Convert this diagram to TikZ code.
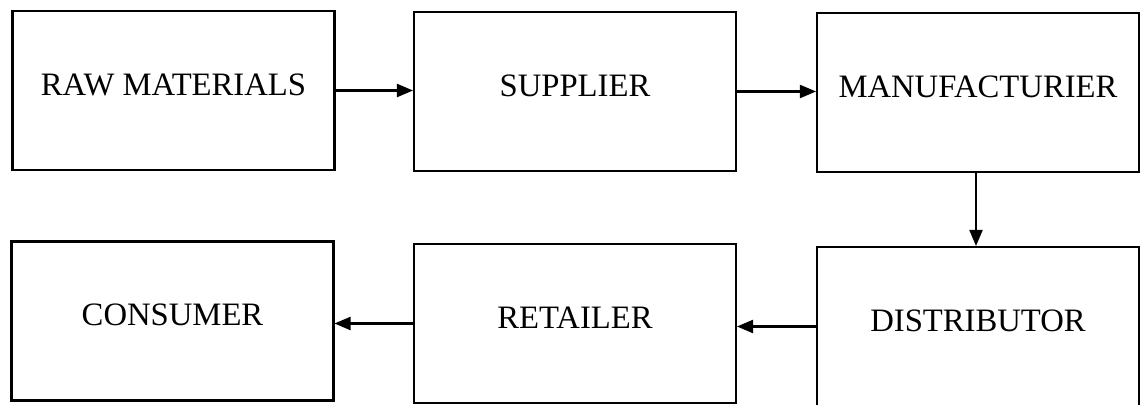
\documentclass[tikz,border=0pt]{standalone}
\usepackage{fontspec}
\setmainfont{Liberation Serif}
\usetikzlibrary{arrows.meta}

\tikzset{
  stage/.style={draw, line width=1.2pt, rectangle, minimum width=6.44cm,
    minimum height=3.18cm, text depth=0.25cm, font=\fontsize{18.6}{22}\selectfont},
  flow/.style={line width=1.2pt, -{Triangle[length=0.32cm,width=0.26cm]}}
}

\begin{document}
\begin{tikzpicture}[x=0.02cm, y=-0.02cm]
  \useasboundingbox (0,0) rectangle (1140,405);

  % Draw the boxes
  \foreach \name/\x/\y/\txt in {raw/173.5/90.5/RAW MATERIALS, sup/575/91.5/SUPPLIER,
      man/978/92.5/MANUFACTURIER, con/172.5/321/CONSUMER,
      ret/575/323.5/RETAILER, dis/978/326.5/DISTRIBUTOR} {
    \node[stage] (\name) at (\x,\y) {\txt};
  }

  % Draw arrows between the boxes
  \draw[flow] (raw.east) -- (raw.east -| sup.west);
  \draw[flow] (sup.east) -- (sup.east -| man.west);
  \draw[flow] (man.south -| 976,0) -- (dis.north -| 976,0);
  \draw[flow] (dis.west) -- (dis.west -| ret.east);
  \draw[flow] (ret.west) -- (ret.west -| con.east);
\end{tikzpicture}
\end{document}
